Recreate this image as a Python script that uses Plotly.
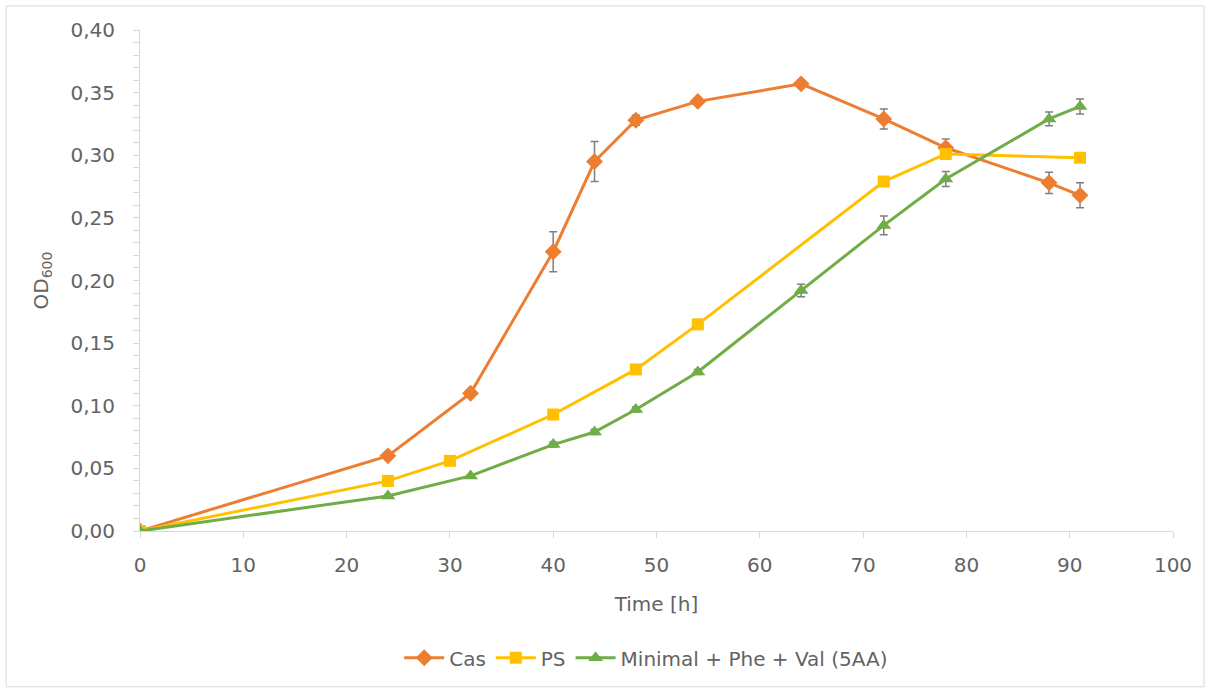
import plotly.graph_objects as go

# Growth curves: OD600 over time for three media
cas_t = [0, 24, 32, 40, 44, 48, 54, 64, 72, 78, 88, 91]
cas_od = [0.000, 0.060, 0.110, 0.223, 0.295, 0.328, 0.343, 0.357, 0.329, 0.306, 0.278, 0.268]
cas_err = [0.000, 0.002, 0.003, 0.016, 0.016, 0.004, 0.002, 0.003, 0.008, 0.007, 0.0085, 0.010]

ps_t = [0, 24, 30, 40, 48, 54, 72, 78, 91]
ps_od = [0.000, 0.040, 0.056, 0.093, 0.129, 0.165, 0.279, 0.301, 0.298]

min_t = [0, 24, 32, 40, 44, 48, 54, 64, 72, 78, 88, 91]
min_od = [0.000, 0.028, 0.044, 0.069, 0.079, 0.097, 0.127, 0.192, 0.244, 0.281, 0.329, 0.339]
min_err = [0.000, 0.001, 0.001, 0.002, 0.002, 0.002, 0.002, 0.005, 0.0075, 0.006, 0.0055, 0.006]

series_names = ["Cas", "PS", "Minimal + Phe + Val (5AA)"]
x_ticks = [0, 10, 20, 30, 40, 50, 60, 70, 80, 90, 100]

FONT = dict(family="DejaVu Sans", size=20, color="#636363")
AX = "#d9d9d9"
ERR = "#7f7f7f"

fig = go.Figure()
fig.add_trace(go.Scatter(
    x=cas_t, y=cas_od, name=series_names[0], mode="lines+markers",
    line=dict(color="#ED7D31", width=3),
    marker=dict(symbol="diamond", size=13, color="#ED7D31"),
    error_y=dict(type="data", array=cas_err, color=ERR, thickness=1.5, width=4),
))
fig.add_trace(go.Scatter(
    x=ps_t, y=ps_od, name=series_names[1], mode="lines+markers",
    line=dict(color="#FFC000", width=3),
    marker=dict(symbol="square", size=12, color="#FFC000"),
))
fig.add_trace(go.Scatter(
    x=min_t, y=min_od, name=series_names[2], mode="lines+markers",
    line=dict(color="#70AD47", width=3),
    marker=dict(symbol="triangle-up", size=13, color="#70AD47"),
    error_y=dict(type="data", array=min_err, color=ERR, thickness=1.5, width=4),
))

fig.update_layout(
    width=1210, height=693,
    margin=dict(l=140, r=37, t=30, b=162),
    paper_bgcolor="white", plot_bgcolor="white",
    separators=", ",
    font=FONT,
    showlegend=True,
    legend=dict(orientation="h", x=0.49, y=-0.253, xanchor="center", yanchor="middle",
                font=FONT, itemwidth=40, bgcolor="rgba(0,0,0,0)"),
    shapes=[dict(type="rect", xref="paper", yref="paper",
                 x0=-0.1297, x1=1.030, y0=-0.311, y1=1.048,
                 line=dict(color=AX, width=1), layer="below")],
)

fig.update_xaxes(
    range=[0, 100], tickvals=x_ticks, showgrid=False, zeroline=False,
    showline=True, linecolor=AX, linewidth=1,
    ticks="outside", ticklen=6, tickcolor=AX,
    tickfont=FONT, ticklabelstandoff=10,
    title=dict(text="Time [h]", font=FONT, standoff=20),
)
fig.update_yaxes(
    range=[0, 0.40], dtick=0.05, tickformat=".2f", showgrid=False, zeroline=False,
    showline=True, linecolor=AX, linewidth=1,
    ticks="outside", ticklen=6, tickcolor=AX,
    minor=dict(dtick=0.01, ticks="outside", ticklen=6, tickcolor=AX, showgrid=False),
    tickfont=FONT, ticklabelstandoff=14,
    title=dict(text="OD<sub>600</sub>", font=FONT, standoff=16),
)

fig.write_html("out.html")
